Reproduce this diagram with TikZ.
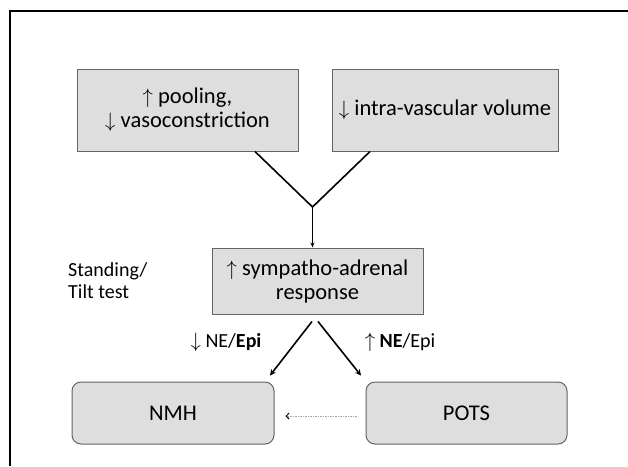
\documentclass[tikz,border=0pt]{standalone}
\usepackage{fontspec}
\setmainfont{Carlito}
\usetikzlibrary{calc,arrows.meta}
\definecolor{boxfill}{RGB}{222,222,222}
\definecolor{boxline}{RGB}{100,100,100}
\tikzset{
  box/.style={draw=boxline, fill=boxfill, line width=1pt, align=center, inner sep=0pt,
    font=\fontsize{22.5}{24}\selectfont},
  rbox/.style={box, rounded corners=9pt},
  plain/.style={align=left, inner sep=0pt, font=\fontsize{20}{22}\selectfont},
  conn/.style={draw=black, line width=1.6pt},
  arr/.style={draw=black, line width=1.6pt, -{Stealth[length=6pt,width=6pt]}},
  varr/.style={draw=black, line width=1.1pt, -{Stealth[length=5pt,width=4pt]}},
  dotarr/.style={draw=gray!70, line width=0.7pt, dashed, dash pattern=on 1.5pt off 1pt,
    -{Straight Barb[length=3pt,width=6pt,color=black,line width=0.9pt]}},
  frame/.style={draw=black, line width=2pt}
}
\begin{document}
\begin{tikzpicture}[x=1pt,y=-1pt]
\useasboundingbox (0,0) rectangle (628,466);
\coordinate (ftop) at (628,11);
\coordinate (fcorner) at (10,11);
\coordinate (fbot) at (10,466);
\draw[frame] (ftop) -- (fcorner) -- (fbot);

\node[box, minimum width=221pt, minimum height=82pt] (pool) at (187.5,110)
  {$\uparrow$ pooling,\\ $\downarrow$ vasoconstriction};
\node[box, minimum width=226pt, minimum height=82pt] (vol) at (445,110)
  {$\downarrow$ intra-vascular volume};
\node[box, minimum width=211pt, minimum height=66pt] (sym) at (317.5,281)
  {$\uparrow$ sympatho-adrenal\\ response};
\node[rbox, minimum width=202pt, minimum height=62pt] (nmh) at (173,413) {NMH};
\node[rbox, minimum width=201pt, minimum height=62pt] (pots) at (466.5,413) {POTS};

\node[plain, anchor=west] (stand) at (68,281) {Standing/\\Tilt test};
\node[plain] (lneg) at (226,342) {$\downarrow$ NE/\textbf{Epi}};
\node[plain] (lpos) at (400,342) {$\uparrow$ \textbf{NE}/Epi};

\coordinate (j) at (312.5,207);
\draw[conn] ($(pool.south)+(67.5,0)$) -- (j) -- ($(vol.south)+(-75,0)$);
\draw[varr] (j) -- (j |- sym.north);
\draw[arr] ($(sym.south)+(-5.5,7)$) -- ($(nmh.north)+(97,-6)$);
\draw[arr] ($(sym.south)+(0.5,7)$) -- ($(pots.north)+(-105.5,-6)$);
\draw[dotarr] ($(pots.west)+(-9,3)$) -- ($(nmh.east)+(11,3)$);
\end{tikzpicture}
\end{document}
